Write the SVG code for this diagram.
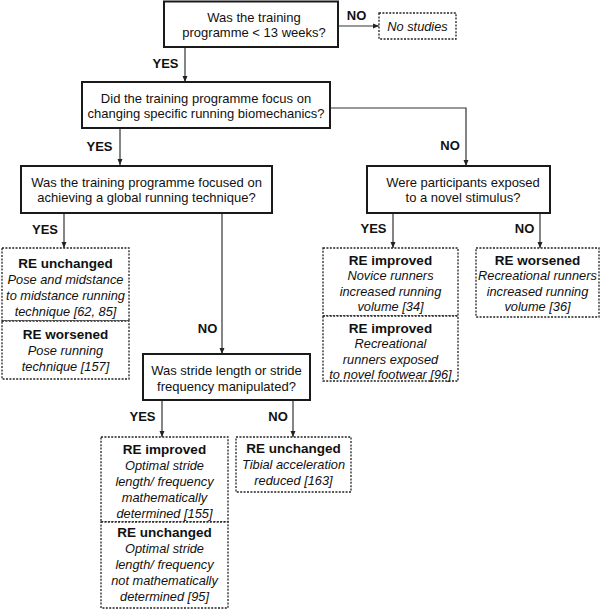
<svg xmlns="http://www.w3.org/2000/svg" width="602" height="610" viewBox="0 0 602 610">
<defs>
<marker id="arr" markerWidth="6" markerHeight="6" refX="6" refY="3" orient="auto" markerUnits="userSpaceOnUse">
<path d="M0,0.5 L6,3 L0,5.5 Z" fill="#222"/>
</marker>
<style>
.q{fill:#fff;stroke:#1a1a1a;stroke-width:2}
.r{fill:#fff;stroke:#222;stroke-width:1.3;stroke-dasharray:2 1.4}
.t{font-family:"Liberation Sans",Arial,sans-serif;font-size:13px;fill:#111;text-anchor:middle}
.i{font-style:italic;font-size:12.8px}
.b{font-weight:bold;font-size:13.5px}
.lab{font-family:"Liberation Sans",Arial,sans-serif;font-size:13px;font-weight:bold;fill:#111;text-anchor:middle}
.c{fill:none;stroke:#333;stroke-width:1.2;marker-end:url(#arr)}
</style>
</defs>
<rect width="602" height="610" fill="#fff"/>

<g id="connectors">
<path class="c" d="M338,26 H379"/>
<path class="c" d="M185,47 V82"/>
<path class="c" d="M120,128 V165"/>
<path class="c" d="M330,108 H466 V166"/>
<path class="c" d="M64,213 V248"/>
<path class="c" d="M222,213 V354"/>
<path class="c" d="M393,213 V248"/>
<path class="c" d="M540,213 V248"/>
<path class="c" d="M162,400 V437"/>
<path class="c" d="M293,400 V437"/>
<text class="lab" x="356.5" y="20">NO</text>
<text class="lab" x="165.5" y="68">YES</text>
<text class="lab" x="99.5" y="151">YES</text>
<text class="lab" x="450" y="150">NO</text>
<text class="lab" x="45" y="234">YES</text>
<text class="lab" x="207.5" y="333">NO</text>
<text class="lab" x="373.5" y="233">YES</text>
<text class="lab" x="524.5" y="233">NO</text>
<text class="lab" x="142.5" y="421">YES</text>
<text class="lab" x="278" y="421">NO</text>
</g>

<g id="q1">
<rect class="q" x="164" y="1.5" width="174" height="45.5"/>
<text class="t" x="254" y="21.5">Was the training</text>
<text class="t" x="254" y="36.5">programme &lt; 13 weeks?</text>
</g>

<g id="no-studies">
<rect class="r" x="379" y="13" width="77" height="26"/>
<text class="t i" x="417.5" y="30.5">No studies</text>
</g>

<g id="q2">
<rect class="q" x="82" y="82" width="248" height="46"/>
<text class="t" x="206" y="102.5">Did the training programme focus on</text>
<text class="t" x="206" y="117.5">changing specific running biomechanics?</text>
</g>

<g id="q3">
<rect class="q" x="21" y="166" width="251" height="47"/>
<text class="t" x="146.5" y="186.5">Was the training programme focused on</text>
<text class="t" x="146.5" y="201.5">achieving a global running technique?</text>
</g>

<g id="q5">
<rect class="q" x="367" y="166" width="183" height="47"/>
<text class="t" x="463" y="186.5">Were participants exposed</text>
<text class="t" x="463" y="201.5">to a novel stimulus?</text>
</g>

<g id="r-global">
<rect class="r" x="2" y="248" width="127" height="73"/>
<rect class="r" x="2" y="321" width="127" height="58"/>
<text class="t b" x="65.5" y="267.5">RE unchanged</text>
<text class="t i" x="65.5" y="283.5">Pose and midstance</text>
<text class="t i" x="65.5" y="299.5">to midstance running</text>
<text class="t i" x="65.5" y="315.5">technique [62, 85]</text>
<text class="t b" x="65.5" y="339">RE worsened</text>
<text class="t i" x="65.5" y="355">Pose running</text>
<text class="t i" x="65.5" y="370.5">technique [157]</text>
</g>

<g id="r-novel-yes">
<rect class="r" x="323" y="248" width="135" height="68"/>
<rect class="r" x="323" y="316" width="135" height="65"/>
<text class="t b" x="390.5" y="264.5">RE improved</text>
<text class="t i" x="390.5" y="280">Novice runners</text>
<text class="t i" x="390.5" y="295.5">increased running</text>
<text class="t i" x="390.5" y="311">volume [34]</text>
<text class="t b" x="390.5" y="332.5">RE improved</text>
<text class="t i" x="390.5" y="348">Recreational</text>
<text class="t i" x="390.5" y="363.5">runners exposed</text>
<text class="t i" x="390.5" y="379">to novel footwear [96]</text>
</g>

<g id="r-novel-no">
<rect class="r" x="476" y="248" width="123" height="69"/>
<text class="t b" x="537.5" y="264.5">RE worsened</text>
<text class="t i" x="537.5" y="280">Recreational runners</text>
<text class="t i" x="537.5" y="295.5">increased running</text>
<text class="t i" x="537.5" y="311">volume [36]</text>
</g>

<g id="q4">
<rect class="q" x="143" y="354" width="167" height="46"/>
<text class="t" x="226.5" y="374.5">Was stride length or stride</text>
<text class="t" x="226.5" y="390.5">frequency manipulated?</text>
</g>

<g id="r-stride-yes">
<rect class="r" x="101" y="437" width="127" height="85"/>
<rect class="r" x="101" y="522" width="127" height="86"/>
<text class="t b" x="164.5" y="453.5">RE improved</text>
<text class="t i" x="164.5" y="469.5">Optimal stride</text>
<text class="t i" x="164.5" y="485.5">length/ frequency</text>
<text class="t i" x="164.5" y="501.5">mathematically</text>
<text class="t i" x="164.5" y="517.5">determined [155]</text>
<text class="t b" x="164.5" y="536.5">RE unchanged</text>
<text class="t i" x="164.5" y="552.5">Optimal stride</text>
<text class="t i" x="164.5" y="568.5">length/ frequency</text>
<text class="t i" x="164.5" y="584.5">not mathematically</text>
<text class="t i" x="164.5" y="600.5">determined [95]</text>
</g>

<g id="r-stride-no">
<rect class="r" x="236" y="437" width="115" height="55"/>
<text class="t b" x="293.5" y="452.5">RE unchanged</text>
<text class="t i" x="293.5" y="468.5">Tibial acceleration</text>
<text class="t i" x="293.5" y="484.5">reduced [163]</text>
</g>
</svg>
